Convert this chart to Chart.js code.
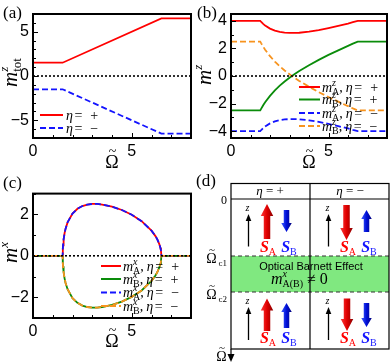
<!DOCTYPE html>
<html>
<head>
<meta charset="utf-8">
<script src="https://cdn.jsdelivr.net/npm/chart.js@4.4.1/dist/chart.umd.min.js"></script>
<style>
  body { margin: 0; width: 390px; height: 363px; position: relative; background: #fff; overflow: hidden; }
  .panel { position: absolute; }
  #overlay { position: absolute; left: 0; top: 0; }
</style>
</head>
<body>
<div class="panel" style="left:0;top:0;width:195px;height:180px"><canvas id="chartA"></canvas></div>
<div class="panel" style="left:195px;top:0;width:195px;height:180px"><canvas id="chartB"></canvas></div>
<div class="panel" style="left:0;top:180px;width:195px;height:183px"><canvas id="chartC"></canvas></div>
<svg id="overlay" width="390" height="363" xmlns="http://www.w3.org/2000/svg"></svg>
<script>
// ---- data ----
const xTicks = [0, 5];
const xRange = [0, 8];
const zeroLine = [0, 0];

// (a) total magnetisation
const omegaA = [0, 1.5, 6.5, 8];
const mTotPlus = [1.5, 1.5, 6.5, 6.5];
const mTotMinus = [-1.5, -1.5, -6.5, -6.5];
const yTicksA = [-5, 0, 5];

// (b) z components
const omegaB = [0, 1.5, 1.55, 1.6, 1.65, 1.75, 2, 2.25, 2.5, 2.75, 3, 3.25, 3.5, 4, 4.5, 5, 5.5, 6, 6.25, 6.5, 8];
const mAzPlus = [4, 4, 3.92, 3.85, 3.78, 3.66, 3.44, 3.29, 3.2, 3.15, 3.13, 3.13, 3.14, 3.22, 3.33, 3.48, 3.64, 3.81, 3.91, 4, 4];
const mBzPlus = [-2.5, -2.5, -2.37, -2.25, -2.13, -1.91, -1.44, -1.04, -0.7, -0.4, -0.13, 0.13, 0.36, 0.78, 1.17, 1.53, 1.86, 2.19, 2.35, 2.5, 2.5];
const mAzMinus = [-4, -4, -3.92, -3.85, -3.78, -3.66, -3.44, -3.29, -3.2, -3.15, -3.13, -3.13, -3.14, -3.22, -3.33, -3.48, -3.64, -3.81, -3.91, -4, -4];
const mBzMinus = [2.5, 2.5, 2.37, 2.25, 2.13, 1.91, 1.44, 1.04, 0.7, 0.4, 0.13, -0.13, -0.36, -0.78, -1.17, -1.53, -1.86, -2.19, -2.35, -2.5, -2.5];
const yTicksB = [-4, -2, 0, 2, 4];

// (c) x components
const omegaC = [0, 1.5, 1.51, 1.52, 1.55, 1.6, 1.65, 1.75, 2, 2.25, 2.5, 2.75, 3, 3.25, 3.5, 4, 4.5, 5, 5.5, 6, 6.2, 6.3, 6.4, 6.45, 6.48, 6.5, 8];
const mAxPlus = [0, 0, 0.36, 0.51, 0.79, 1.1, 1.31, 1.61, 2.04, 2.27, 2.4, 2.47, 2.5, 2.5, 2.47, 2.37, 2.21, 1.98, 1.67, 1.21, 0.95, 0.78, 0.55, 0.39, 0.25, 0, 0];
const mBxPlus = [0, 0, -0.36, -0.51, -0.79, -1.1, -1.31, -1.61, -2.04, -2.27, -2.4, -2.47, -2.5, -2.5, -2.47, -2.37, -2.21, -1.98, -1.67, -1.21, -0.95, -0.78, -0.55, -0.39, -0.25, 0, 0];
const mAxMinus = [0, 0, 0.36, 0.51, 0.79, 1.1, 1.31, 1.61, 2.04, 2.27, 2.4, 2.47, 2.5, 2.5, 2.47, 2.37, 2.21, 1.98, 1.67, 1.21, 0.95, 0.78, 0.55, 0.39, 0.25, 0, 0];
const mBxMinus = [0, 0, -0.36, -0.51, -0.79, -1.1, -1.31, -1.61, -2.04, -2.27, -2.4, -2.47, -2.5, -2.5, -2.47, -2.37, -2.21, -1.98, -1.67, -1.21, -0.95, -0.78, -0.55, -0.39, -0.25, 0, 0];
const yTicksC = [-2, 0, 2];

const RED = '#ff0000', GREEN = '#0a8c0a', BLUE = '#1414ff', ORANGE = '#f7931e';
const SERIF = '"Liberation Serif","Times New Roman",serif';
const SANS = '"Liberation Sans",Arial,sans-serif';
const DASH = [6, 3];

function series(xs, ys) {
  return xs.map((x, i) => ({ x: x, y: ys[i] }));
}

function font(code) {
  const style = code[0] === 'i' ? 'italic ' : (code[0] === 'b' ? 'italic bold ' : '');
  return style + code.slice(1) + 'px ' + SERIF;
}

// draw a row of math pieces: [text, font, dy, advance?] or a number = gap
function math(ctx, x, y, toks) {
  for (const tok of toks) {
    if (typeof tok === 'number') { x += tok; continue; }
    const [t, code, dy = 0, adv = true] = tok;
    ctx.font = font(code);
    ctx.fillText(t, x, y + dy);
    if (adv) x += ctx.measureText(t).width;
  }
  return x;
}

// Omega with a tilde drawn over it
function omegaTilde(ctx, cx, y, size) {
  ctx.textAlign = 'center';
  ctx.font = size + 'px ' + SERIF;
  ctx.fillText('Ω', cx, y);
  ctx.font = Math.round(size * 0.75) + 'px ' + SERIF;
  ctx.fillText('~', cx + 0.5, y - size * 0.68);
  ctx.textAlign = 'left';
}

const etaPlus = [['η', 'i14'], 1.5, ['=', 'r14'], 8, ['+', 'r14']];
const etaMinus = [['η', 'i14'], 1.5, ['=', 'r14'], 8, ['−', 'r14']];
const mSym = (c, s) => [['m', 'i14'], [c, 'i10', -6, false], [s, 'r10', 3], [',', 'r14'], 3];

function deco(p) {
  return {
    id: 'deco',
    afterDraw(chart) {
      const { ctx, chartArea: a, scales: { x, y } } = chart;
      ctx.save();
      ctx.strokeStyle = '#000';
      ctx.lineWidth = 1;
      ctx.beginPath();
      for (let v = 1; v < 8; v++) {
        const px = Math.round(x.getPixelForValue(v)) + 0.5;
        const len = xTicks.includes(v) ? 5 : 3;
        ctx.moveTo(px, a.bottom); ctx.lineTo(px, a.bottom - len);
      }
      for (let v = Math.ceil(p.ymin); v <= p.ymax; v++) {
        const py = Math.round(y.getPixelForValue(v)) + 0.5;
        const len = p.yTicks.includes(v) ? 5 : 3;
        ctx.moveTo(a.left, py); ctx.lineTo(a.left + len, py);
      }
      ctx.stroke();
      ctx.lineWidth = 2;
      ctx.strokeRect(a.left, a.top, a.right - a.left, a.bottom - a.top);

      // axis titles
      ctx.fillStyle = '#000';
      ctx.textBaseline = 'alphabetic';
      omegaTilde(ctx, (a.left + a.right) / 2, p.xTitleY, 18);
      ctx.textAlign = 'left';
      ctx.save();
      ctx.translate(p.yTitleX, p.yTitleY);
      ctx.rotate(-Math.PI / 2);
      math(ctx, 0, 0, p.yTitle);
      ctx.restore();

      // legend
      p.legend.forEach((row, i) => {
        const ly = p.legY[i];
        ctx.strokeStyle = row.color;
        ctx.lineWidth = 2;
        ctx.setLineDash(row.dash || []);
        ctx.beginPath();
        ctx.moveTo(p.legX[0], ly); ctx.lineTo(p.legX[1], ly);
        ctx.stroke();
        ctx.setLineDash([]);
        ctx.fillStyle = '#000';
        math(ctx, p.legX[2], ly + 4.5, row.toks);
      });
      ctx.restore();
    }
  };
}

function makeChart(id, datasets, p) {
  return new Chart(document.getElementById(id), {
    type: 'scatter',
    data: { datasets: datasets.map(d => Object.assign({ showLine: true, borderWidth: 1.8, pointRadius: 0, fill: false }, d)) },
    options: {
      responsive: true, maintainAspectRatio: false, animation: false, events: [],
      layout: { padding: { top: p.top, right: p.right, left: 0, bottom: 0 } },
      plugins: { legend: { display: false }, tooltip: { enabled: false } },
      scales: {
        x: {
          type: 'linear', min: 0, max: 8,
          grid: { display: false, drawTicks: false }, border: { display: false },
          afterBuildTicks: s => { s.ticks = xTicks.map(v => ({ value: v })); },
          afterFit: s => { s.height = p.xh; },
          ticks: { color: '#000', font: { family: SANS, size: 16 }, padding: 4, maxRotation: 0, autoSkip: false }
        },
        y: {
          type: 'linear', min: p.ymin, max: p.ymax,
          grid: { display: false, drawTicks: false }, border: { display: false },
          afterBuildTicks: s => { s.ticks = p.yTicks.map(v => ({ value: v })); },
          afterFit: s => { s.width = p.yw; },
          ticks: { color: '#000', font: { family: SANS, size: 16 }, padding: 4, autoSkip: false,
                   callback: v => v < 0 ? '\u2212' + (-v) : String(v) }
        }
      }
    },
    plugins: [deco(p)]
  });
}

// (a)
makeChart('chartA', [
  { data: series(xRange, zeroLine), borderColor: '#000', borderDash: [2, 2], borderWidth: 1.6, order: 1 },
  { data: series(omegaA, mTotMinus), borderColor: BLUE, borderDash: DASH, order: 2 },
  { data: series(omegaA, mTotPlus), borderColor: RED, order: 3 }
], {
  top: 14, right: 4, xh: 42, yw: 33, ymin: -7, ymax: 7, yTicks: yTicksA,
  xTitleY: 168, yTitleX: 17, yTitleY: 87,
  yTitle: [['m', 'i21'], ['z', 'i13', -9, false], ['tot', 'r13', 4]],
  legX: [40, 63, 66], legY: [115, 128],
  legend: [{ color: RED, toks: etaPlus }, { color: BLUE, dash: DASH, toks: etaMinus }]
});

// (b)
makeChart('chartB', [
  { data: series(xRange, zeroLine), borderColor: '#000', borderDash: [2, 2], borderWidth: 1.6, order: 1 },
  { data: series(omegaB, mBzMinus), borderColor: ORANGE, borderDash: DASH, order: 2 },
  { data: series(omegaB, mAzMinus), borderColor: BLUE, borderDash: DASH, order: 3 },
  { data: series(omegaB, mBzPlus), borderColor: GREEN, order: 4 },
  { data: series(omegaB, mAzPlus), borderColor: RED, order: 5 }
], {
  top: 14, right: 3, xh: 42, yw: 36, ymin: -4.5, ymax: 4.5, yTicks: yTicksB,
  xTitleY: 168, yTitleX: 16, yTitleY: 85,
  yTitle: [['m', 'i21'], ['z', 'i13', -9]],
  legX: [104, 125, 127], legY: [87, 99.5, 113, 126],
  legend: [
    { color: RED, toks: mSym('z', 'A').concat(etaPlus) },
    { color: GREEN, toks: mSym('z', 'B').concat(etaPlus) },
    { color: BLUE, dash: DASH, toks: mSym('z', 'A').concat(etaMinus) },
    { color: ORANGE, dash: DASH, toks: mSym('z', 'B').concat(etaMinus) }
  ]
});

// (c)
makeChart('chartC', [
  { data: series(xRange, zeroLine), borderColor: '#000', borderDash: [2, 2], borderWidth: 1.6, order: 1 },
  { data: series(omegaC, mBxMinus), borderColor: ORANGE, borderDash: DASH, order: 2 },
  { data: series(omegaC, mAxMinus), borderColor: BLUE, borderDash: DASH, order: 3 },
  { data: series(omegaC, mBxPlus), borderColor: GREEN, order: 4 },
  { data: series(omegaC, mAxPlus), borderColor: RED, order: 5 }
], {
  top: 13, right: 4, xh: 45, yw: 33, ymin: -3, ymax: 3, yTicks: yTicksC,
  xTitleY: 167, yTitleX: 17, yTitleY: 83,
  yTitle: [['m', 'i21'], ['x', 'i13', -9]],
  legX: [101, 121, 123], legY: [86, 99, 112.5, 126],
  legend: [
    { color: RED, toks: mSym('x', 'A').concat(etaPlus) },
    { color: GREEN, toks: mSym('x', 'B').concat(etaPlus) },
    { color: BLUE, dash: DASH, toks: mSym('x', 'A').concat(etaMinus) },
    { color: ORANGE, dash: DASH, toks: mSym('x', 'B').concat(etaMinus) }
  ]
});

// ---- panel (d): phase diagram drawn as svg ----
const svg = document.getElementById('overlay');

function svgOmega(xRight, y, size, sub) {
  // right-aligned Omega-tilde with optional subscript
  const subW = sub ? sub.length * size * 0.36 : 0;
  const cx = xRight - subW - size * 0.39;
  let s = `<text x="${cx}" y="${y}" text-anchor="middle" font-size="${size}">Ω</text>` +
    `<text x="${cx + 0.5}" y="${y - size * 0.68}" text-anchor="middle" font-size="${Math.round(size * 0.75)}">~</text>`;
  if (sub) s += `<text x="${xRight}" y="${y + 3}" text-anchor="end" font-size="${Math.round(size * 0.65)}">${sub}</text>`;
  return s;
}

let out = `
<defs>
  <linearGradient id="gr" x1="0" x2="1" y1="0" y2="0">
    <stop offset="0" stop-color="#ff3a3a"/><stop offset="0.5" stop-color="#e00000"/><stop offset="1" stop-color="#8a0000"/>
  </linearGradient>
  <linearGradient id="gb" x1="0" x2="1" y1="0" y2="0">
    <stop offset="0" stop-color="#3d5cff"/><stop offset="0.5" stop-color="#0010d8"/><stop offset="1" stop-color="#00007a"/>
  </linearGradient>
</defs>
<g font-family='${SERIF}' fill="#000">
  <text x="3" y="18" font-size="17">(a)</text>
  <text x="197" y="18" font-size="17">(b)</text>
  <text x="3" y="188" font-size="17">(c)</text>
  <text x="196" y="186" font-size="17">(d)</text>
</g>
<rect x="231" y="256" width="158" height="36" fill="#80e880"/>
<g stroke="#333" stroke-width="1.2" stroke-dasharray="4 3">
  <line x1="231" y1="256" x2="389" y2="256"/><line x1="231" y1="292" x2="389" y2="292"/>
</g>
<g stroke="#000" stroke-width="1.2" fill="none">
  <rect x="231" y="183.5" width="158" height="165.5"/>
  <line x1="231" y1="199" x2="389" y2="199"/>
  <line x1="310" y1="183.5" x2="310" y2="349"/>
  <line x1="231" y1="349" x2="231" y2="355"/>
</g>
<polygon points="227.5,354 234.5,354 231,362" fill="#000"/>
<g font-family='${SERIF}' font-size="13" text-anchor="middle">
  <text x="270" y="195"><tspan font-style="italic">η</tspan> = +</text>
  <text x="350" y="195"><tspan font-style="italic">η</tspan> = −</text>
</g>
<g font-family='${SERIF}'>
  <text x="227" y="204" font-size="12" text-anchor="end">0</text>
  ${svgOmega(227, 263, 14, 'c1')}
  ${svgOmega(227, 299, 14, 'c2')}
  ${svgOmega(227, 361, 14, '')}
</g>
<text x="311" y="270" text-anchor="middle" font-family='${SANS}' font-size="11">Optical Barnett Effect</text>
<text x="271" y="284" font-family='${SERIF}' font-size="16"><tspan font-style="italic">m</tspan><tspan font-size="10" font-style="italic" dy="-7">x</tspan><tspan font-size="10" dx="-4.5" dy="10">A(B)</tspan><tspan dy="-3"> ≠ 0</tspan></text>
`;

function bigArrow(x, tail, tip, sw, hw, hh, fill) {
  const s = Math.sign(tip - tail), b = tip - s * hh;
  const pts = [[x - sw / 2, tail], [x - sw / 2, b], [x - hw / 2, b], [x, tip], [x + hw / 2, b], [x + sw / 2, b], [x + sw / 2, tail]];
  return `<polygon points="${pts.map(q => q.join(',')).join(' ')}" fill="${fill}"/>`;
}
function zArrow(x, tail, tip) {
  return `<line x1="${x}" y1="${tail}" x2="${x}" y2="${tip + 5}" stroke="#000" stroke-width="1.3"/>` +
    `<polygon points="${x - 2.8},${tip + 7} ${x + 2.8},${tip + 7} ${x},${tip}" fill="#000"/>` +
    `<text x="${x - 1}" y="${tip - 3}" text-anchor="middle" font-family='${SERIF}' font-style="italic" font-size="10">z</text>`;
}
function spinLabel(x, y, sub, color) {
  return `<text x="${x}" y="${y}" text-anchor="middle" fill="${color}" font-family='${SERIF}'>` +
    `<tspan font-style="italic" font-weight="bold" font-size="16">S</tspan><tspan font-size="10" dy="3">${sub}</tspan></text>`;
}

// upper row (0 < Ω < Ωc1)
out += zArrow(248.5, 246.5, 214) + zArrow(328.5, 246.5, 214);
out += bigArrow(267, 239, 204, 6.5, 12.5, 12, 'url(#gr)') + bigArrow(286.5, 210, 232, 5.5, 10.5, 9, 'url(#gb)');
out += bigArrow(346.5, 205, 240, 6.5, 12.5, 12, 'url(#gr)') + bigArrow(366.5, 232, 210, 5.5, 10.5, 9, 'url(#gb)');
out += spinLabel(268, 252, 'A', RED) + spinLabel(289, 252, 'B', BLUE) + spinLabel(348, 252, 'A', RED) + spinLabel(369, 252, 'B', BLUE);
// lower row (Ω > Ωc2)
out += zArrow(248.5, 340, 307) + zArrow(328.5, 340, 307);
out += bigArrow(267, 331, 298.5, 6.5, 12.5, 12, 'url(#gr)') + bigArrow(286.5, 328, 303, 5.5, 10.5, 9, 'url(#gb)');
out += bigArrow(347, 298.5, 331, 6.5, 12.5, 12, 'url(#gr)') + bigArrow(366.5, 303, 327, 5.5, 10.5, 9, 'url(#gb)');
out += spinLabel(268, 343, 'A', RED) + spinLabel(289, 343, 'B', BLUE) + spinLabel(348, 343, 'A', RED) + spinLabel(369, 343, 'B', BLUE);

svg.innerHTML = out;
</script>
</body>
</html>
